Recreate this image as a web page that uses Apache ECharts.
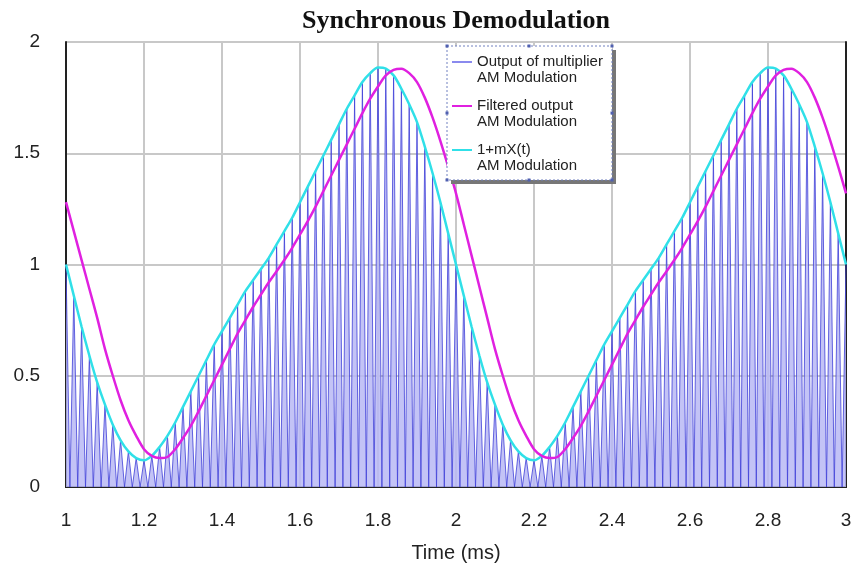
<!DOCTYPE html>
<html>
<head>
<meta charset="utf-8">
<script src="https://cdn.jsdelivr.net/npm/echarts@6/dist/echarts.min.js"></script>
<style>html,body{margin:0;padding:0;background:#fff}#c{width:855px;height:565px}</style>
</head>
<body>
<div id="c"></div>
<script>
// Time samples (ms), step 0.02 from 1.00 to 3.00
var timeStart = 1.0, timeStep = 0.02;
// 1+mX(t) envelope (cyan)
var envelope = [
 1.00,0.86,0.72,0.59,0.47,0.37,0.28,0.21,0.16,0.13,
 0.12,0.14,0.18,0.23,0.29,0.36,0.43,0.50,0.57,0.64,
 0.70,0.76,0.82,0.88,0.93,0.98,1.03,1.09,1.15,1.21,
 1.28,1.35,1.42,1.49,1.56,1.63,1.70,1.76,1.82,1.86,
 1.885,1.88,1.85,1.79,1.72,1.64,1.53,1.41,1.28,1.14,
 1.00,0.86,0.72,0.59,0.47,0.37,0.28,0.21,0.16,0.13,
 0.12,0.14,0.18,0.23,0.29,0.36,0.43,0.50,0.57,0.64,
 0.70,0.76,0.82,0.88,0.93,0.98,1.03,1.09,1.15,1.21,
 1.28,1.35,1.42,1.49,1.56,1.63,1.70,1.76,1.82,1.86,
 1.885,1.88,1.85,1.79,1.72,1.64,1.53,1.41,1.28,1.14,
 1.00
];
// Filtered output (magenta)
var filtered = [
 1.28,1.15,1.02,0.89,0.76,0.62,0.50,0.39,0.30,0.23,
 0.17,0.14,0.13,0.135,0.17,0.22,0.275,0.34,0.41,0.48,
 0.55,0.62,0.69,0.75,0.81,0.865,0.92,0.97,1.02,1.075,
 1.135,1.195,1.26,1.33,1.40,1.47,1.54,1.61,1.68,1.745,
 1.80,1.85,1.875,1.88,1.86,1.82,1.75,1.66,1.555,1.44,
 1.32,1.18,1.04,0.90,0.76,0.62,0.50,0.39,0.30,0.23,
 0.17,0.14,0.13,0.135,0.17,0.22,0.275,0.34,0.41,0.48,
 0.55,0.62,0.69,0.75,0.81,0.865,0.92,0.97,1.02,1.075,
 1.135,1.195,1.26,1.33,1.40,1.47,1.54,1.61,1.68,1.745,
 1.80,1.85,1.875,1.88,1.86,1.82,1.75,1.66,1.555,1.44,
 1.32
];
// Multiplier output: peak heights (read: peaks touch the envelope), troughs at 0
var multiplierPeaks = envelope;
var multiplierTrough = 0;

var xTicks = ['1','1.2','1.4','1.6','1.8','2','2.2','2.4','2.6','2.8','3'];
var yTicks = ['0','0.5','1','1.5','2'];
var legendNames = ['Output of multiplier\nAM Modulation','Filtered output\nAM Modulation','1+mX(t)\nAM Modulation'];

function tAt(i){ return +(timeStart + i*timeStep).toFixed(4); }
var envData = envelope.map(function(v,i){return [tAt(i), v];});
var filtData = filtered.map(function(v,i){return [tAt(i), v];});
var multData = [];
multiplierPeaks.forEach(function(v,i){
  multData.push([tAt(i), v]);
  if (i < multiplierPeaks.length-1) multData.push([+(tAt(i)+timeStep/2).toFixed(4), multiplierTrough]);
});

var chart = echarts.init(document.getElementById('c'), null, {renderer:'canvas'});
var frameLine = {show:true,lineStyle:{color:'#222',width:2}};
var lblFont = {fontFamily:'Liberation Sans',fontSize:19,color:'#222'};
function handle(x,y){return {type:'rect',z:7,shape:{x:x-1.5,y:y-1.5,width:3,height:3},style:{fill:'#5060b0'}};}
chart.setOption({
  animation:false,
  backgroundColor:'#fff',
  title:{text:'Synchronous Demodulation',left:451,top:3,textAlign:'center',
    textStyle:{fontFamily:'Liberation Serif',fontWeight:'bold',fontSize:26,color:'#111'}},
  grid:{left:66,right:9,top:42,bottom:78,outerBoundsMode:'none',containLabel:false},
  xAxis:[{type:'value',min:1,max:3,interval:0.2,position:'bottom',
    name:'Time (ms)',nameLocation:'middle',nameGap:56,
    nameTextStyle:{fontFamily:'Liberation Sans',fontSize:20,color:'#222'},
    axisLine:frameLine,axisTick:{show:false},
    axisLabel:Object.assign({margin:24,
      formatter:function(v){var i=Math.round((v-1)/0.2);return xTicks[i]!==undefined?xTicks[i]:'';}},lblFont),
    splitLine:{show:true,lineStyle:{color:'#c8c8c8',width:2}}},
   {type:'value',min:1,max:3,position:'top',axisLine:frameLine,axisTick:{show:false},axisLabel:{show:false},splitLine:{show:false}}],
  yAxis:[{type:'value',min:0,max:2,interval:0.5,position:'left',
    axisLine:frameLine,axisTick:{show:false},
    axisLabel:Object.assign({margin:26,
      formatter:function(v){var i=Math.round(v/0.5);return yTicks[i]!==undefined?yTicks[i]:'';}},lblFont),
    splitLine:{show:true,lineStyle:{color:'#c8c8c8',width:2}}},
   {type:'value',min:0,max:2,position:'right',axisLine:frameLine,axisTick:{show:false},axisLabel:{show:false},splitLine:{show:false}}],
  legend:{
    orient:'vertical',left:447,top:30,z:20,
    padding:[8,8,8,5],itemGap:-4,itemWidth:20,itemHeight:2,icon:'rect',
    backgroundColor:'transparent',
    formatter:function(name){return ' \n'+name;},
    textStyle:{fontFamily:'Liberation Sans',fontSize:15,color:'#222',lineHeight:16},
    data:[
      {name:legendNames[0],itemStyle:{color:'#8a8aee'}},
      {name:legendNames[1],itemStyle:{color:'#e020e0'}},
      {name:legendNames[2],itemStyle:{color:'#30e0e8'}}
    ]
  },
  graphic:[
    {type:'rect',z:5,shape:{x:451,y:50,width:165,height:134},style:{fill:'#777'}},
    {type:'rect',z:6,shape:{x:447,y:46,width:165,height:134},style:{fill:'#fff',stroke:'#7080c0',lineWidth:1,lineDash:[2,2]}},
    handle(447,46),handle(529,46),handle(612,46),handle(447,113),handle(612,113),handle(447,180),handle(529,180),handle(612,180)
  ],
  series:[
    {name:legendNames[0],type:'line',data:multData,symbol:'none',z:1,
      lineStyle:{color:'#4040d8',width:1,opacity:0.8},
      areaStyle:{color:'#b8b8f4',opacity:0.85},itemStyle:{color:'#8a8aee'}},
    {name:legendNames[2],type:'line',data:envData,symbol:'none',smooth:0.3,z:3,
      lineStyle:{color:'#30e0e8',width:2.5},itemStyle:{color:'#30e0e8'}},
    {name:legendNames[1],type:'line',data:filtData,symbol:'none',smooth:0.3,z:4,
      lineStyle:{color:'#e020e0',width:2.5},itemStyle:{color:'#e020e0'}}
  ]
});
</script>
</body>
</html>
